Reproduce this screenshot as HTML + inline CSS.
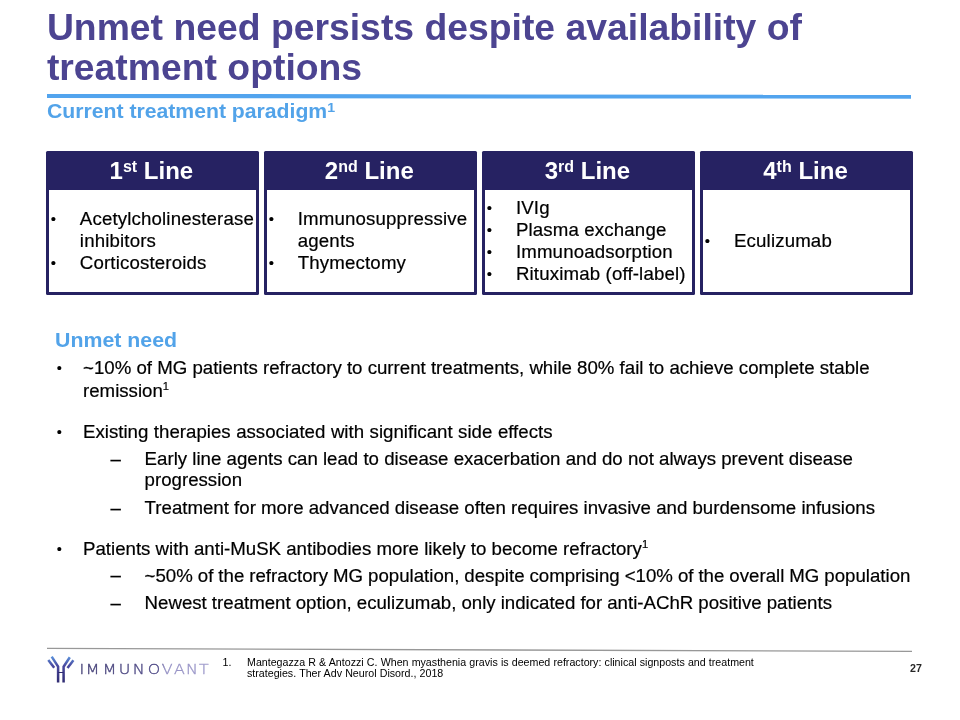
<!DOCTYPE html>
<html><head><meta charset="utf-8">
<style>
html,body{margin:0;padding:0;}
body{width:960px;height:720px;position:relative;overflow:hidden;background:#fff;font-family:"Liberation Sans",sans-serif;color:#000;}
.abs{position:absolute;}
#title{left:46.9px;top:6.8px;width:880px;font-size:37.33px;line-height:40.2px;font-weight:bold;color:#4c4491;white-space:nowrap;}
#sub{left:47px;top:99.3px;font-size:21.2px;line-height:24px;transform:scaleY(0.965);transform-origin:0 18.5px;font-weight:bold;color:#52a3e9;white-space:nowrap;}
sup{font-size:66.7%;line-height:0;vertical-align:baseline;position:relative;top:-0.44em;}
.box{top:151px;width:212.6px;height:143.6px;background:#262262;border-radius:1.5px;}
.box .hd{position:absolute;left:-1.2px;top:0;width:100%;height:38.8px;line-height:39.4px;text-align:center;color:#fff;font-weight:bold;font-size:24px;white-space:nowrap;}
.box .bd{position:absolute;left:2.8px;top:38.8px;right:2.8px;bottom:2.6px;padding-top:0.5px;background:#fff;display:flex;flex-direction:column;justify-content:center;}
.box ul{list-style:none;margin:0;padding:0;}
.box li{-webkit-text-stroke:0.2px #000;position:relative;padding-left:30.8px;font-size:18.67px;line-height:22.3px;white-space:nowrap;letter-spacing:0.15px;}
.box li:before{content:"•";position:absolute;left:1px;letter-spacing:0;transform:scale(0.8);transform-origin:50% 10.9px;}
.l1,.l2,.b1,.b2{-webkit-text-stroke:0.2px #000;position:absolute;font-size:18.67px;line-height:22px;white-space:nowrap;}
.l1{left:83px;}
.l2{left:144.6px;}
.b1{left:55.9px;transform:scale(0.78);transform-origin:50% 10.75px;}
.b2{left:110.5px;}
#fn{left:222.5px;top:656.8px;font-size:10.67px;line-height:11.5px;word-spacing:0.2px;white-space:nowrap;color:#000;}
#pg{left:910px;top:661.8px;font-size:10.67px;font-weight:bold;color:#262626;}
.l1 sup{font-size:60%;top:-0.545em;}
</style></head><body>
<div id="title" class="abs">Unmet need persists despite availability of<br>treatment options</div>
<svg class="abs" style="left:0;top:90px" width="960" height="12"><polygon points="47,3.9 911,4.8 911,8.7 47,8.1" fill="#52a4ee"/></svg>
<div id="sub" class="abs">Current treatment paradigm<sup>1</sup></div>

<div class="abs box" style="left:46.25px"><div class="hd">1<sup>st</sup> Line</div><div class="bd"><ul><li>Acetylcholinesterase<br>inhibitors</li><li>Corticosteroids</li></ul></div></div>
<div class="abs box" style="left:264.2px"><div class="hd">2<sup>nd</sup> Line</div><div class="bd"><ul><li>Immunosuppressive<br>agents</li><li>Thymectomy</li></ul></div></div>
<div class="abs box" style="left:482.3px"><div class="hd">3<sup>rd</sup> Line</div><div class="bd"><ul><li>IVIg</li><li>Plasma exchange</li><li>Immunoadsorption</li><li>Rituximab (off-label)</li></ul></div></div>
<div class="abs box" style="left:700.4px"><div class="hd">4<sup>th</sup> Line</div><div class="bd"><ul><li>Eculizumab</li></ul></div></div>

<div class="abs" style="left:55px;top:328.2px;font-size:21.33px;line-height:24px;transform:scaleY(0.94);transform-origin:0 18.5px;font-weight:bold;color:#52a3e9;white-space:nowrap;">Unmet need</div>

<div class="b1" style="top:357.05px">•</div>
<div class="l1" style="top:357.05px">~10% of MG patients refractory to current treatments, while 80% fail to achieve complete stable</div>
<div class="l1" style="top:379.55px">remission<sup>1</sup></div>
<div class="b1" style="top:420.75px">•</div>
<div class="l1" style="top:420.75px;word-spacing:0.36px">Existing therapies associated with significant side effects</div>
<div class="b2" style="top:447.75px">–</div>
<div class="l2" style="top:447.75px">Early line agents can lead to disease exacerbation and do not always prevent disease</div>
<div class="l2" style="top:468.75px">progression</div>
<div class="b2" style="top:496.55px">–</div>
<div class="l2" style="top:496.55px">Treatment for more advanced disease often requires invasive and burdensome infusions</div>
<div class="b1" style="top:537.55px">•</div>
<div class="l1" style="top:537.55px">Patients with anti-MuSK antibodies more likely to become refractory<sup>1</sup></div>
<div class="b2" style="top:564.25px">–</div>
<div class="l2" style="top:564.7px;word-spacing:-0.2px">~50% of the refractory MG population, despite comprising &lt;10% of the overall MG population</div>
<div class="b2" style="top:591.55px">–</div>
<div class="l2" style="top:591.55px;word-spacing:-0.13px">Newest treatment option, eculizumab, only indicated for anti-AChR positive patients</div>

<svg class="abs" style="left:0;top:644px" width="960" height="12"><polygon points="47,3.7 912,6.7 912,8.1 47,5.1" fill="#989898"/></svg>
<svg class="abs" style="left:40px;top:650px" width="180" height="40" viewBox="40 650 180 40">
<defs>
<linearGradient id="g1" gradientUnits="userSpaceOnUse" x1="0" y1="656" x2="0" y2="683"><stop offset="0" stop-color="#5b96e0"/><stop offset="0.35" stop-color="#4a4aa0"/><stop offset="1" stop-color="#2f2a70"/></linearGradient>
<linearGradient id="g2" gradientUnits="userSpaceOnUse" x1="0" y1="0" x2="118" y2="0"><stop offset="0" stop-color="#454177"/><stop offset="0.62" stop-color="#55508c"/><stop offset="0.66" stop-color="#9591c4"/><stop offset="1" stop-color="#a09ccc"/></linearGradient>
</defs>
<g fill="none" stroke="url(#g1)" stroke-width="2.5" stroke-linecap="butt" stroke-linejoin="miter">
<path d="M51.7 656.7 L58.1 666.7 L58.1 682.5"/>
<path d="M69.8 657.2 L63.6 666.7 L63.6 682.5"/>
<path d="M48.3 660 L54.2 667.8"/>
<path d="M73.4 660.2 L67.5 668"/>
</g>
<path d="M58.1 672.5 H63.6" stroke="#2f2a70" stroke-width="1" fill="none"/>
<text transform="translate(79.5,674.3) scale(1.1,1)" x="0 5.68 21.23 35.64 48.5 62.1 74.8 85.8 96.8 108.6" y="0" font-family="'DejaVu Sans Light','DejaVu Sans','Liberation Sans',sans-serif" font-weight="200" font-size="14.4" fill="url(#g2)" stroke="url(#g2)" stroke-width="0.35">IMMUNOVANT</text>
</svg>
<div id="fn" class="abs"><span style="position:absolute;left:0;top:0">1.</span><div style="margin-left:24.5px">Mantegazza R &amp; Antozzi C. When myasthenia gravis is deemed refractory: clinical signposts and treatment<br>strategies. Ther Adv Neurol Disord., 2018</div></div>
<div id="pg" class="abs">27</div>
</body></html>
